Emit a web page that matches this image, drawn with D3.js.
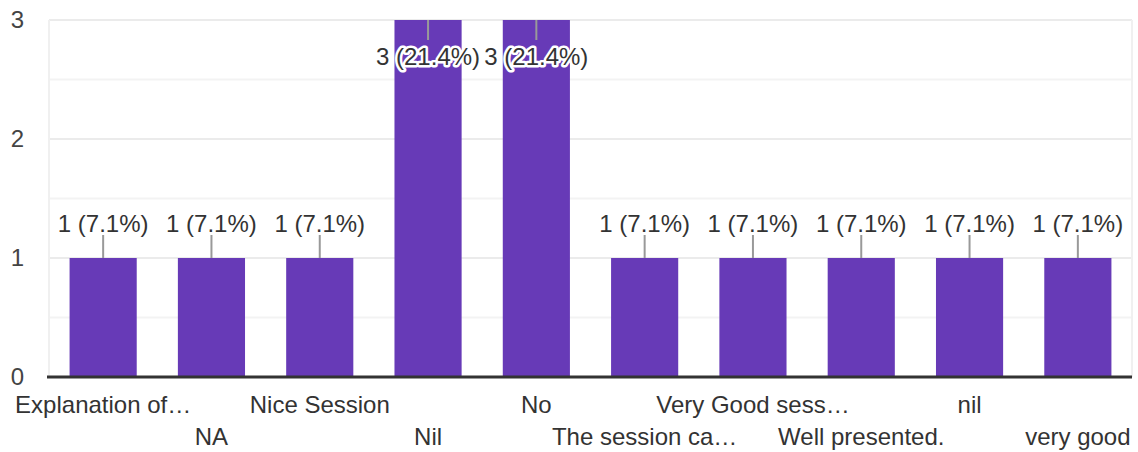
<!DOCTYPE html>
<html>
<head>
<meta charset="utf-8">
<script src="https://cdnjs.cloudflare.com/ajax/libs/d3/7.8.5/d3.min.js"></script>
<style>
  body { margin: 0; background: #fff; }
  svg { display: block; font-family: Arial, "Liberation Sans", sans-serif; }
</style>
</head>
<body>
<script>
'use strict';

var categories = ["Explanation of\u2026", "NA", "Nice Session", "Nil", "No",
                  "The session ca\u2026", "Very Good sess\u2026", "Well presented.", "nil", "very good"];
var counts = [1, 1, 1, 3, 3, 1, 1, 1, 1, 1];
var percents = ["7.1%", "7.1%", "7.1%", "21.4%", "21.4%", "7.1%", "7.1%", "7.1%", "7.1%", "7.1%"];
var yTicks = [0, 1, 2, 3];

var width = 1138, height = 452,
    margin = {top: 20, right: 6, bottom: 75, left: 49},
    fs = 24;

var svg = d3.select("body").append("svg")
    .attr("width", width).attr("height", height);

var x = d3.scaleBand().domain(categories)
    .range([margin.left, width - margin.right])
    .paddingInner(0.38).paddingOuter(0.19);
var y = d3.scaleLinear().domain([0, 3])
    .range([height - margin.bottom, margin.top]);

// grid, with minor lines at halves
var grid = svg.append("g");
grid.selectAll("line").data(d3.range(0, 3.01, 0.5)).enter().append("line")
    .attr("x1", margin.left).attr("x2", width - margin.right)
    .attr("y1", function(d){return y(d);}).attr("y2", function(d){return y(d);})
    .attr("stroke", function(d){return d % 1 ? "#f3f3f3" : "#ebebeb";})
    .attr("stroke-width", 2);
grid.selectAll("line.v").data([margin.left, width - margin.right]).enter().append("line")
    .attr("x1", function(d){return d;}).attr("x2", function(d){return d;})
    .attr("y1", y(3)).attr("y2", y(0))
    .attr("stroke", "#f0f0f0").attr("stroke-width", 2);

// y labels
svg.append("g").selectAll("text").data(yTicks).enter().append("text")
    .attr("x", 24).attr("y", function(d){return y(d);})
    .attr("dy", "0.35em").attr("text-anchor", "end")
    .attr("font-size", fs).attr("fill", "#444")
    .text(function(d){return d;});

// bars
svg.append("g").selectAll("rect").data(counts).enter().append("rect")
    .attr("x", function(d, i){return x(categories[i]);})
    .attr("width", x.bandwidth())
    .attr("y", function(d){return y(d);})
    .attr("height", function(d){return y(0) - y(d);})
    .attr("fill", "#673ab7");

// baseline
svg.append("line")
    .attr("x1", margin.left - 2).attr("x2", width - margin.right)
    .attr("y1", y(0)).attr("y2", y(0))
    .attr("stroke", "#333").attr("stroke-width", 3);

// data labels with leader lines
var lab = svg.append("g").selectAll("g").data(counts).enter().append("g");
lab.each(function(d, i){
    var g = d3.select(this),
        cx = x(categories[i]) + x.bandwidth()/2,
        top = y(d),
        inside = d === 3,
        lineEnd = inside ? top + 20 : top - 23,
        ty = inside ? top + 37 : top - 34,
        s = d + " (" + percents[i] + ")";
    g.append("line")
        .attr("x1", cx).attr("x2", cx).attr("y1", top).attr("y2", lineEnd)
        .attr("stroke", "#999").attr("stroke-width", 2);
    if (inside) {
        g.append("text")
            .attr("x", cx).attr("y", ty).attr("dy", "0.35em")
            .attr("text-anchor", "middle").attr("font-size", fs)
            .attr("fill", "none").attr("stroke", "#fff").attr("stroke-width", 5)
            .attr("stroke-linejoin", "round")
            .text(s);
    }
    g.append("text")
        .attr("x", cx).attr("y", ty).attr("dy", "0.35em")
        .attr("text-anchor", "middle").attr("font-size", fs)
        .attr("fill", "#333")
        .text(s);
});

// x labels, staggered in two rows
svg.append("g").selectAll("text").data(categories).enter().append("text")
    .attr("x", function(d){return x(d) + x.bandwidth()/2;})
    .attr("y", function(d, i){return i % 2 ? 436.5 : 405;})
    .attr("dy", "0.35em").attr("text-anchor", "middle")
    .attr("font-size", fs).attr("fill", "#333")
    .text(function(d){return d;});
</script>
</body>
</html>
